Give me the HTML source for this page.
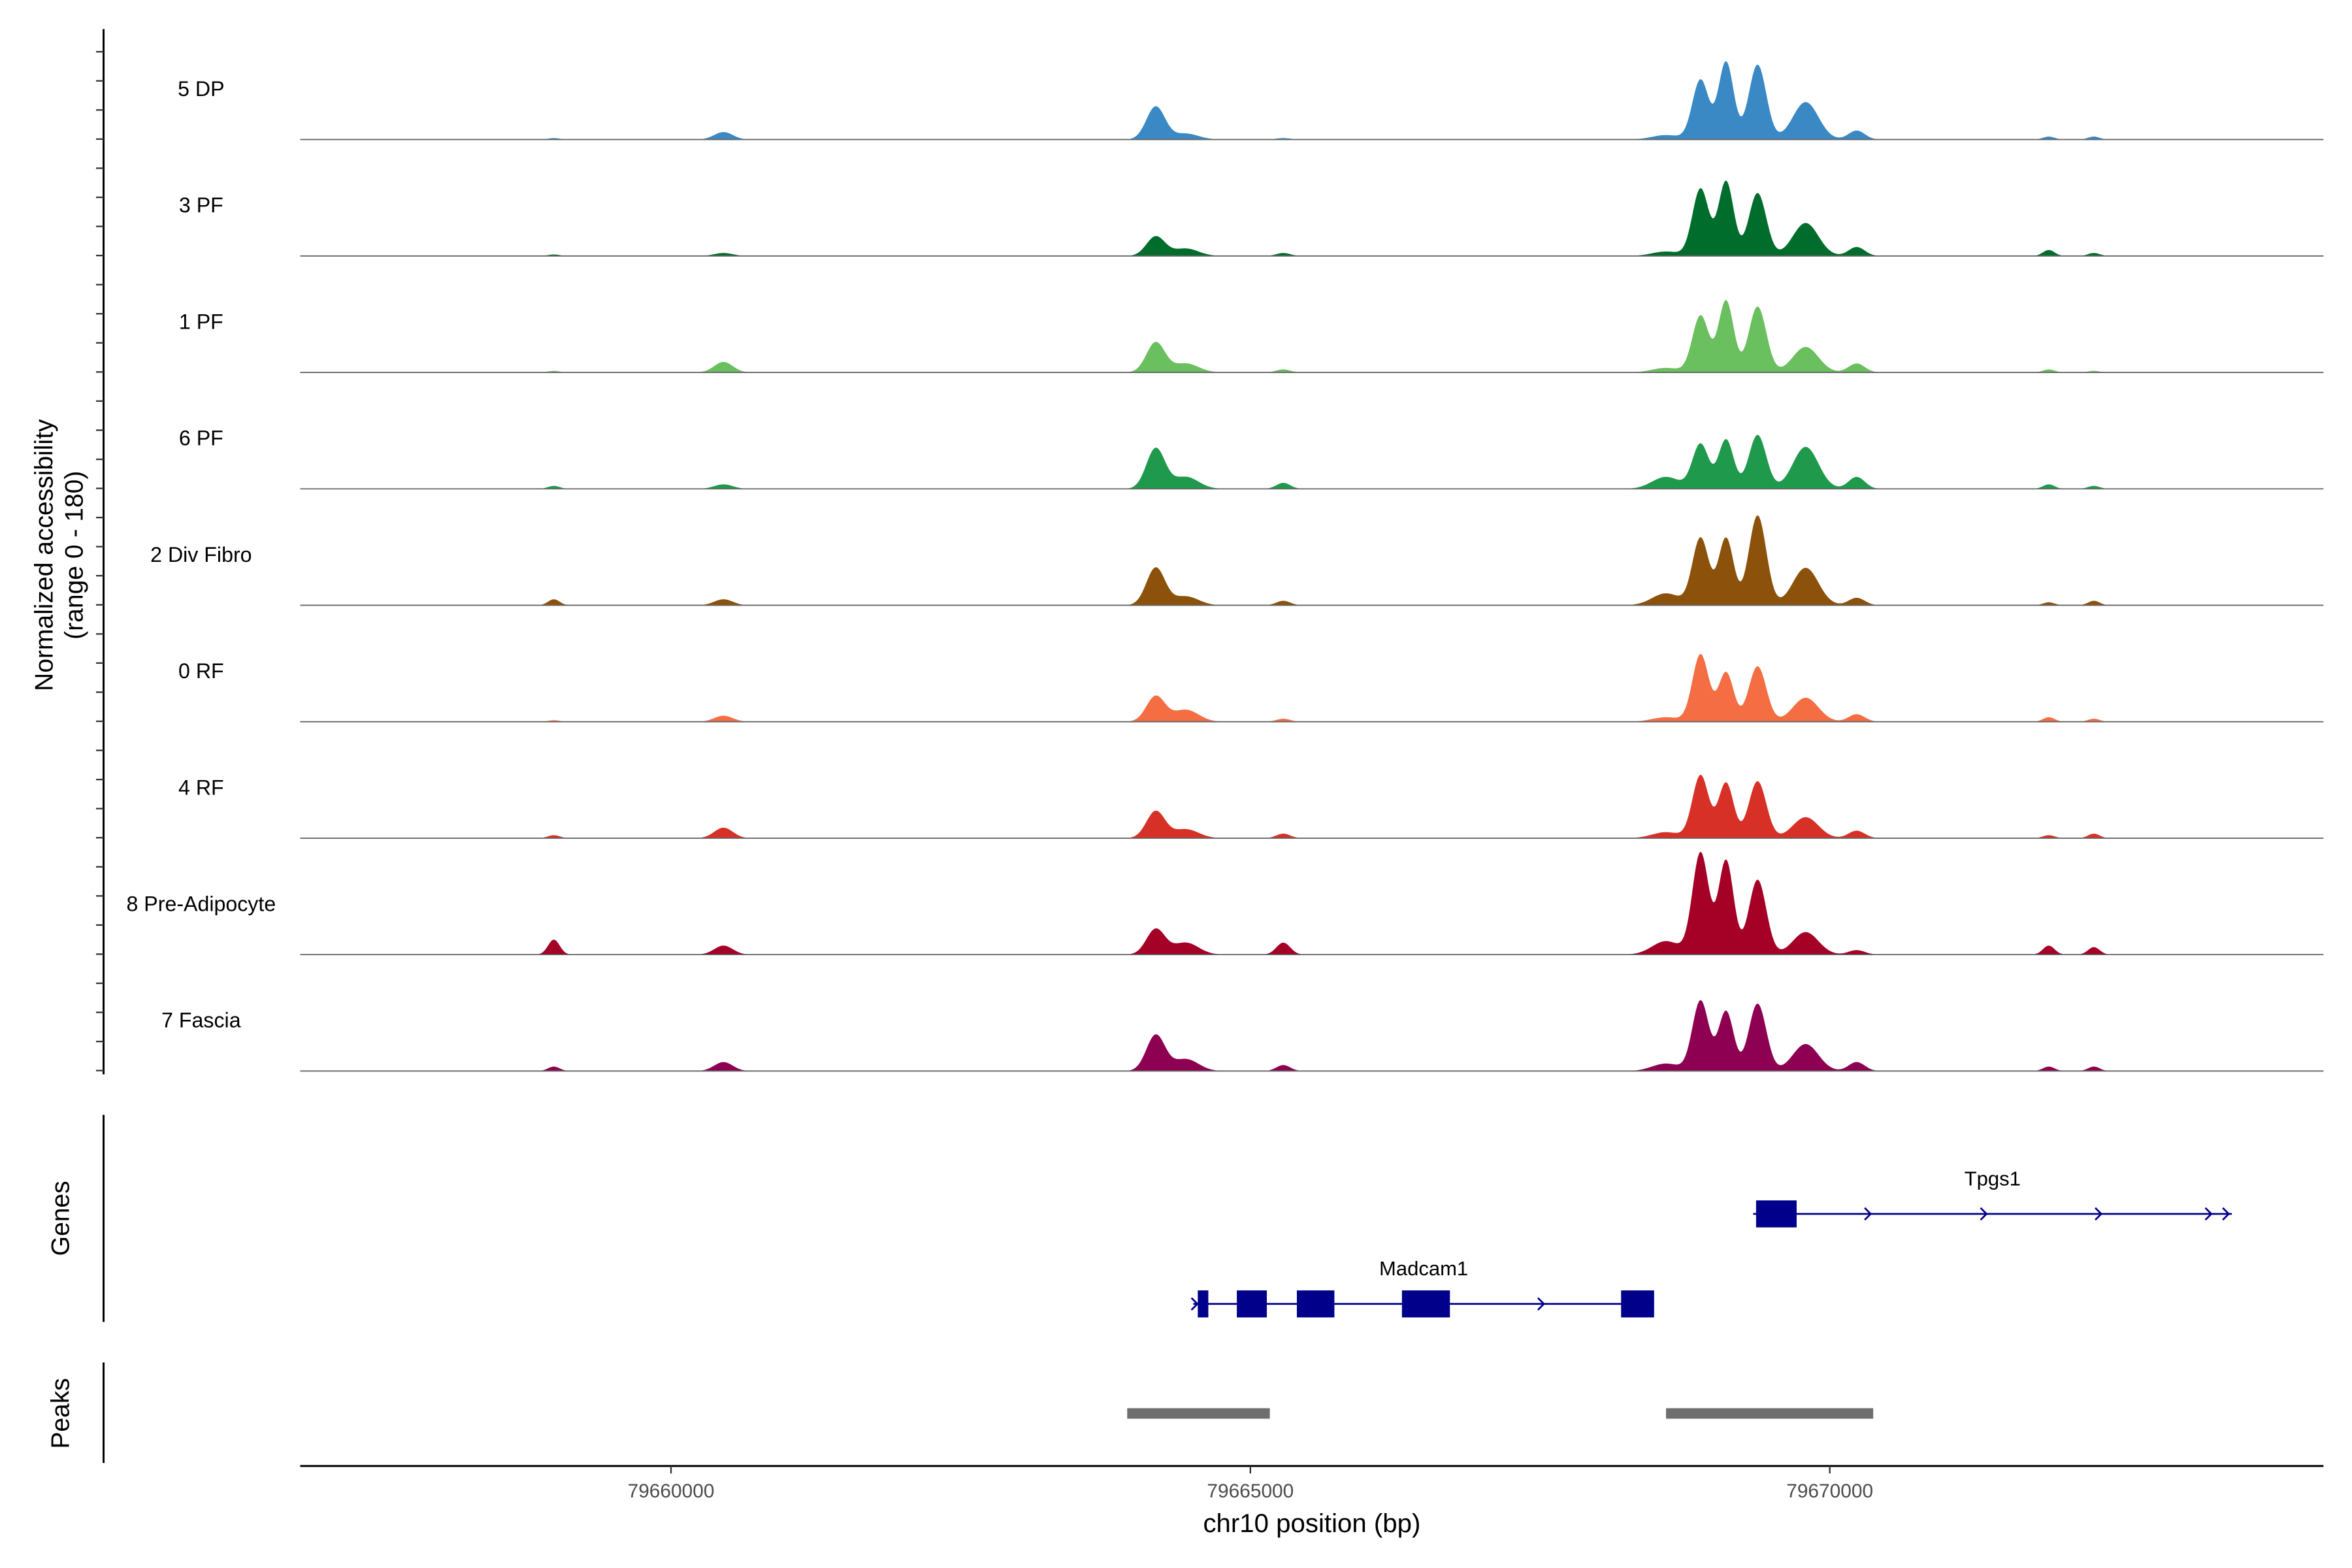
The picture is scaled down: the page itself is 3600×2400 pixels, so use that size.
<!DOCTYPE html>
<html><head><meta charset="utf-8"><style>
html,body{margin:0;padding:0;background:#fff}
svg{display:block}
text{font-family:"Liberation Sans",Arial,sans-serif}
</style></head><body>
<svg id="chart" width="3600" height="2400" viewBox="0 0 1567 1045" preserveAspectRatio="none" xmlns="http://www.w3.org/2000/svg">
<g id="tracks"></g>
<g id="genes"></g>
<g id="peaks"></g>
<g id="axes"></g>
</svg>
<script>
const trackNames = ["5 DP","3 PF","1 PF","6 PF","2 Div Fibro","0 RF","4 RF","8 Pre-Adipocyte","7 Fascia"];
const trackColors = ["#3a89c5","#006d2c","#6abf5e","#1f9a4c","#8c510a","#f46d43","#d73027","#a50026","#8e0152"];
const peakCenters = [79664183,79668885,79669105,79669377,79669792,79670232,79660453,79658989,79665284,79668587,79664442,79671890,79672279];
const peakSigma   = [80,70,65,75,110,70,80,50,60,120,110,50,50];
const trackHeights = [
  [22,40,52,50,25,6,5,1,1,3,4,2,2],
  [13,45,50,42,22,6,2,1,2,3,5,4,2],
  [20,38,48,44,17,6,7,1,2,3,6,2,1],
  [27,30,33,36,28,8,3,2,4,8,8,3,2],
  [25,45,45,60,25,5,4,4,3,8,6,2,3],
  [17,45,33,37,16,5,4,1,2,3,8,3,2],
  [18,42,37,38,14,5,7,2,3,4,6,2,3],
  [17,68,63,50,15,3,6,10,8,9,8,6,5],
  [24,47,40,45,18,6,6,3,4,5,8,3,3]
];
const xTicks = [79660000,79665000,79670000];
const genes = [
  {name:"Tpgs1",start:79669339,end:79673470,y:809,exons:[[79669364,79669714]],arrows:[79670340,79671340,79672330,79673280,79673430]},
  {name:"Madcam1",start:79664507,end:79668484,y:869,exons:[[79664546,79664637],[79664883,79665142],[79665401,79665725],[79666308,79666722],[79668199,79668484]],arrows:[79664530,79667520]}
];
const peakRegions = [[79663937,79665168],[79668587,79670375]];

const X0=200,X1=1548,BP0=79656800,BPPX=12.953;
function xs(bp){return X0+(bp-BP0)/BPPX;}
const NS="http://www.w3.org/2000/svg";
function mk(tag,attrs,parent){const e=document.createElementNS(NS,tag);for(const k in attrs)e.setAttribute(k,attrs[k]);parent.appendChild(e);return e;}

const tg=document.getElementById('tracks');
const base0=93,step=77.6;
trackNames.forEach((nm,i)=>{
  const g=mk('g',{},tg);
  
  
  const by=base0+i*step;
  const t=mk('text',{x:134,y:by-29,'font-size':14,'text-anchor':'middle',fill:'#000'},g);
  t.textContent=nm;
  
  
  let d='M'+X0+','+by;
  for(let px=265;px<=1482;px+=1){
    const bp=BP0+(px-X0)*BPPX;let v=0;
    for(let k=0;k<peakCenters.length;k++){const z=(bp-peakCenters[k])/peakSigma[k];v+=trackHeights[i][k]*Math.exp(-0.5*z*z);}
    d+=' L'+px+','+(by-v).toFixed(2);
  }
  d+=' L1482,'+by+' Z';
  const p=mk('path',{d:d,fill:trackColors[i],stroke:'none'},g);
  
  
  const bl=mk('line',{x1:X0,x2:X1,y1:by,y2:by,stroke:'#666','stroke-width':0.8},g);
  
  
});

const gg=document.getElementById('genes');
const blue='#00008b';
genes.forEach(gn=>{
  const g=mk('g',{},gg);
  
  
  mk('line',{x1:xs(gn.start),x2:xs(gn.end),y1:gn.y,y2:gn.y,stroke:blue,'stroke-width':1.2},g);
  gn.exons.forEach(e=>{const r=mk('rect',{x:xs(e[0]),y:gn.y-9,width:xs(e[1])-xs(e[0]),height:18,fill:blue},g);
    });
  gn.arrows.forEach(a=>{const ax=xs(a);mk('path',{d:`M${ax-3},${gn.y-4} L${ax+1},${gn.y} L${ax-3},${gn.y+4}`,fill:'none',stroke:blue,'stroke-width':1.2},g);});
  const mid=(xs(gn.start)+xs(gn.end))/2;
  const t=mk('text',{x:mid,y:gn.y-19,'font-size':13.5,'text-anchor':'middle',fill:'#000'},g);
  t.textContent=gn.name;
  
  
});

const pg=document.getElementById('peaks');
peakRegions.forEach(r=>{const e=mk('rect',{x:xs(r[0]),y:938.5,width:xs(r[1])-xs(r[0]),height:7,fill:'#6e6e6e'},pg);
  });

const ag=document.getElementById('axes');
const yl=mk('line',{x1:69,x2:69,y1:19.4,y2:716,stroke:'#000','stroke-width':1.3},ag);

for(let y=34.5;y<=716;y+=19.4){mk('line',{x1:64,x2:69,y1:y,y2:y,stroke:'#333','stroke-width':1},ag);}
const yt=mk('text',{transform:'translate(35,370) rotate(-90)','font-size':17,'text-anchor':'middle',fill:'#000'},ag);

yt.innerHTML='<tspan x="0" dy="0">Normalized accessibility</tspan><tspan x="0" dy="20">(range 0 - 180)</tspan>';
mk('line',{x1:69,x2:69,y1:743,y2:881,stroke:'#000','stroke-width':1.3},ag);
mk('line',{x1:69,x2:69,y1:908,y2:975,stroke:'#000','stroke-width':1.3},ag);
const gt=mk('text',{transform:'translate(46,812) rotate(-90)','font-size':17,'text-anchor':'middle',fill:'#000'},ag);
gt.textContent='Genes';
const pt=mk('text',{transform:'translate(46,942) rotate(-90)','font-size':17,'text-anchor':'middle',fill:'#000'},ag);
pt.textContent='Peaks';
const xl=mk('line',{x1:X0,x2:X1,y1:977,y2:977,stroke:'#000','stroke-width':1.3},ag);

xTicks.forEach(v=>{const x=xs(v);mk('line',{x1:x,x2:x,y1:977,y2:982,stroke:'#333','stroke-width':1},ag);
  const t=mk('text',{x:x,y:998,'font-size':13,'text-anchor':'middle',fill:'#4d4d4d'},ag);t.textContent=String(v);
  });
const xt=mk('text',{x:874,y:1021,'font-size':17.5,'text-anchor':'middle',fill:'#000'},ag);
xt.textContent='chr10 position (bp)';
</script>
</body></html>
